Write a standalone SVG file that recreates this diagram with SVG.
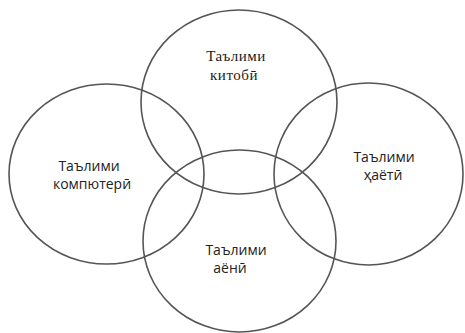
<svg xmlns="http://www.w3.org/2000/svg" width="465" height="333" viewBox="0 0 465 333">
<style>
.c{fill:none;stroke:#555;stroke-width:1.6}
.s{font-family:"Open Sans","Liberation Sans","DejaVu Sans",sans-serif;font-size:14px;fill:#222;text-anchor:middle}
.r{font-family:"Liberation Serif","DejaVu Serif",serif;font-size:15px;fill:#222;text-anchor:middle;letter-spacing:0.5px}
</style>
<rect width="465" height="333" fill="#fff"/>
<g id="top"><ellipse class="c" cx="239" cy="102" rx="98" ry="92"/><text class="r" x="236" y="61">Таълими</text><text class="r" x="234" y="80">китобӣ</text></g>
<g id="left"><ellipse class="c" cx="106.5" cy="174" rx="97.5" ry="90"/><text class="s" x="89" y="171">Таълими</text><text class="s" x="92" y="189">компютерӣ</text></g>
<g id="right"><ellipse class="c" cx="368.5" cy="174" rx="94.5" ry="91"/><text class="s" x="384" y="162">Таълими</text><text class="s" x="383" y="180">ҳаётӣ</text></g>
<g id="bottom"><ellipse class="c" cx="239.5" cy="241" rx="96.5" ry="91"/><text class="s" x="236" y="255">Таълими</text><text class="s" x="230" y="273">аёнӣ</text></g>
<g id="connectors"/>
</svg>
